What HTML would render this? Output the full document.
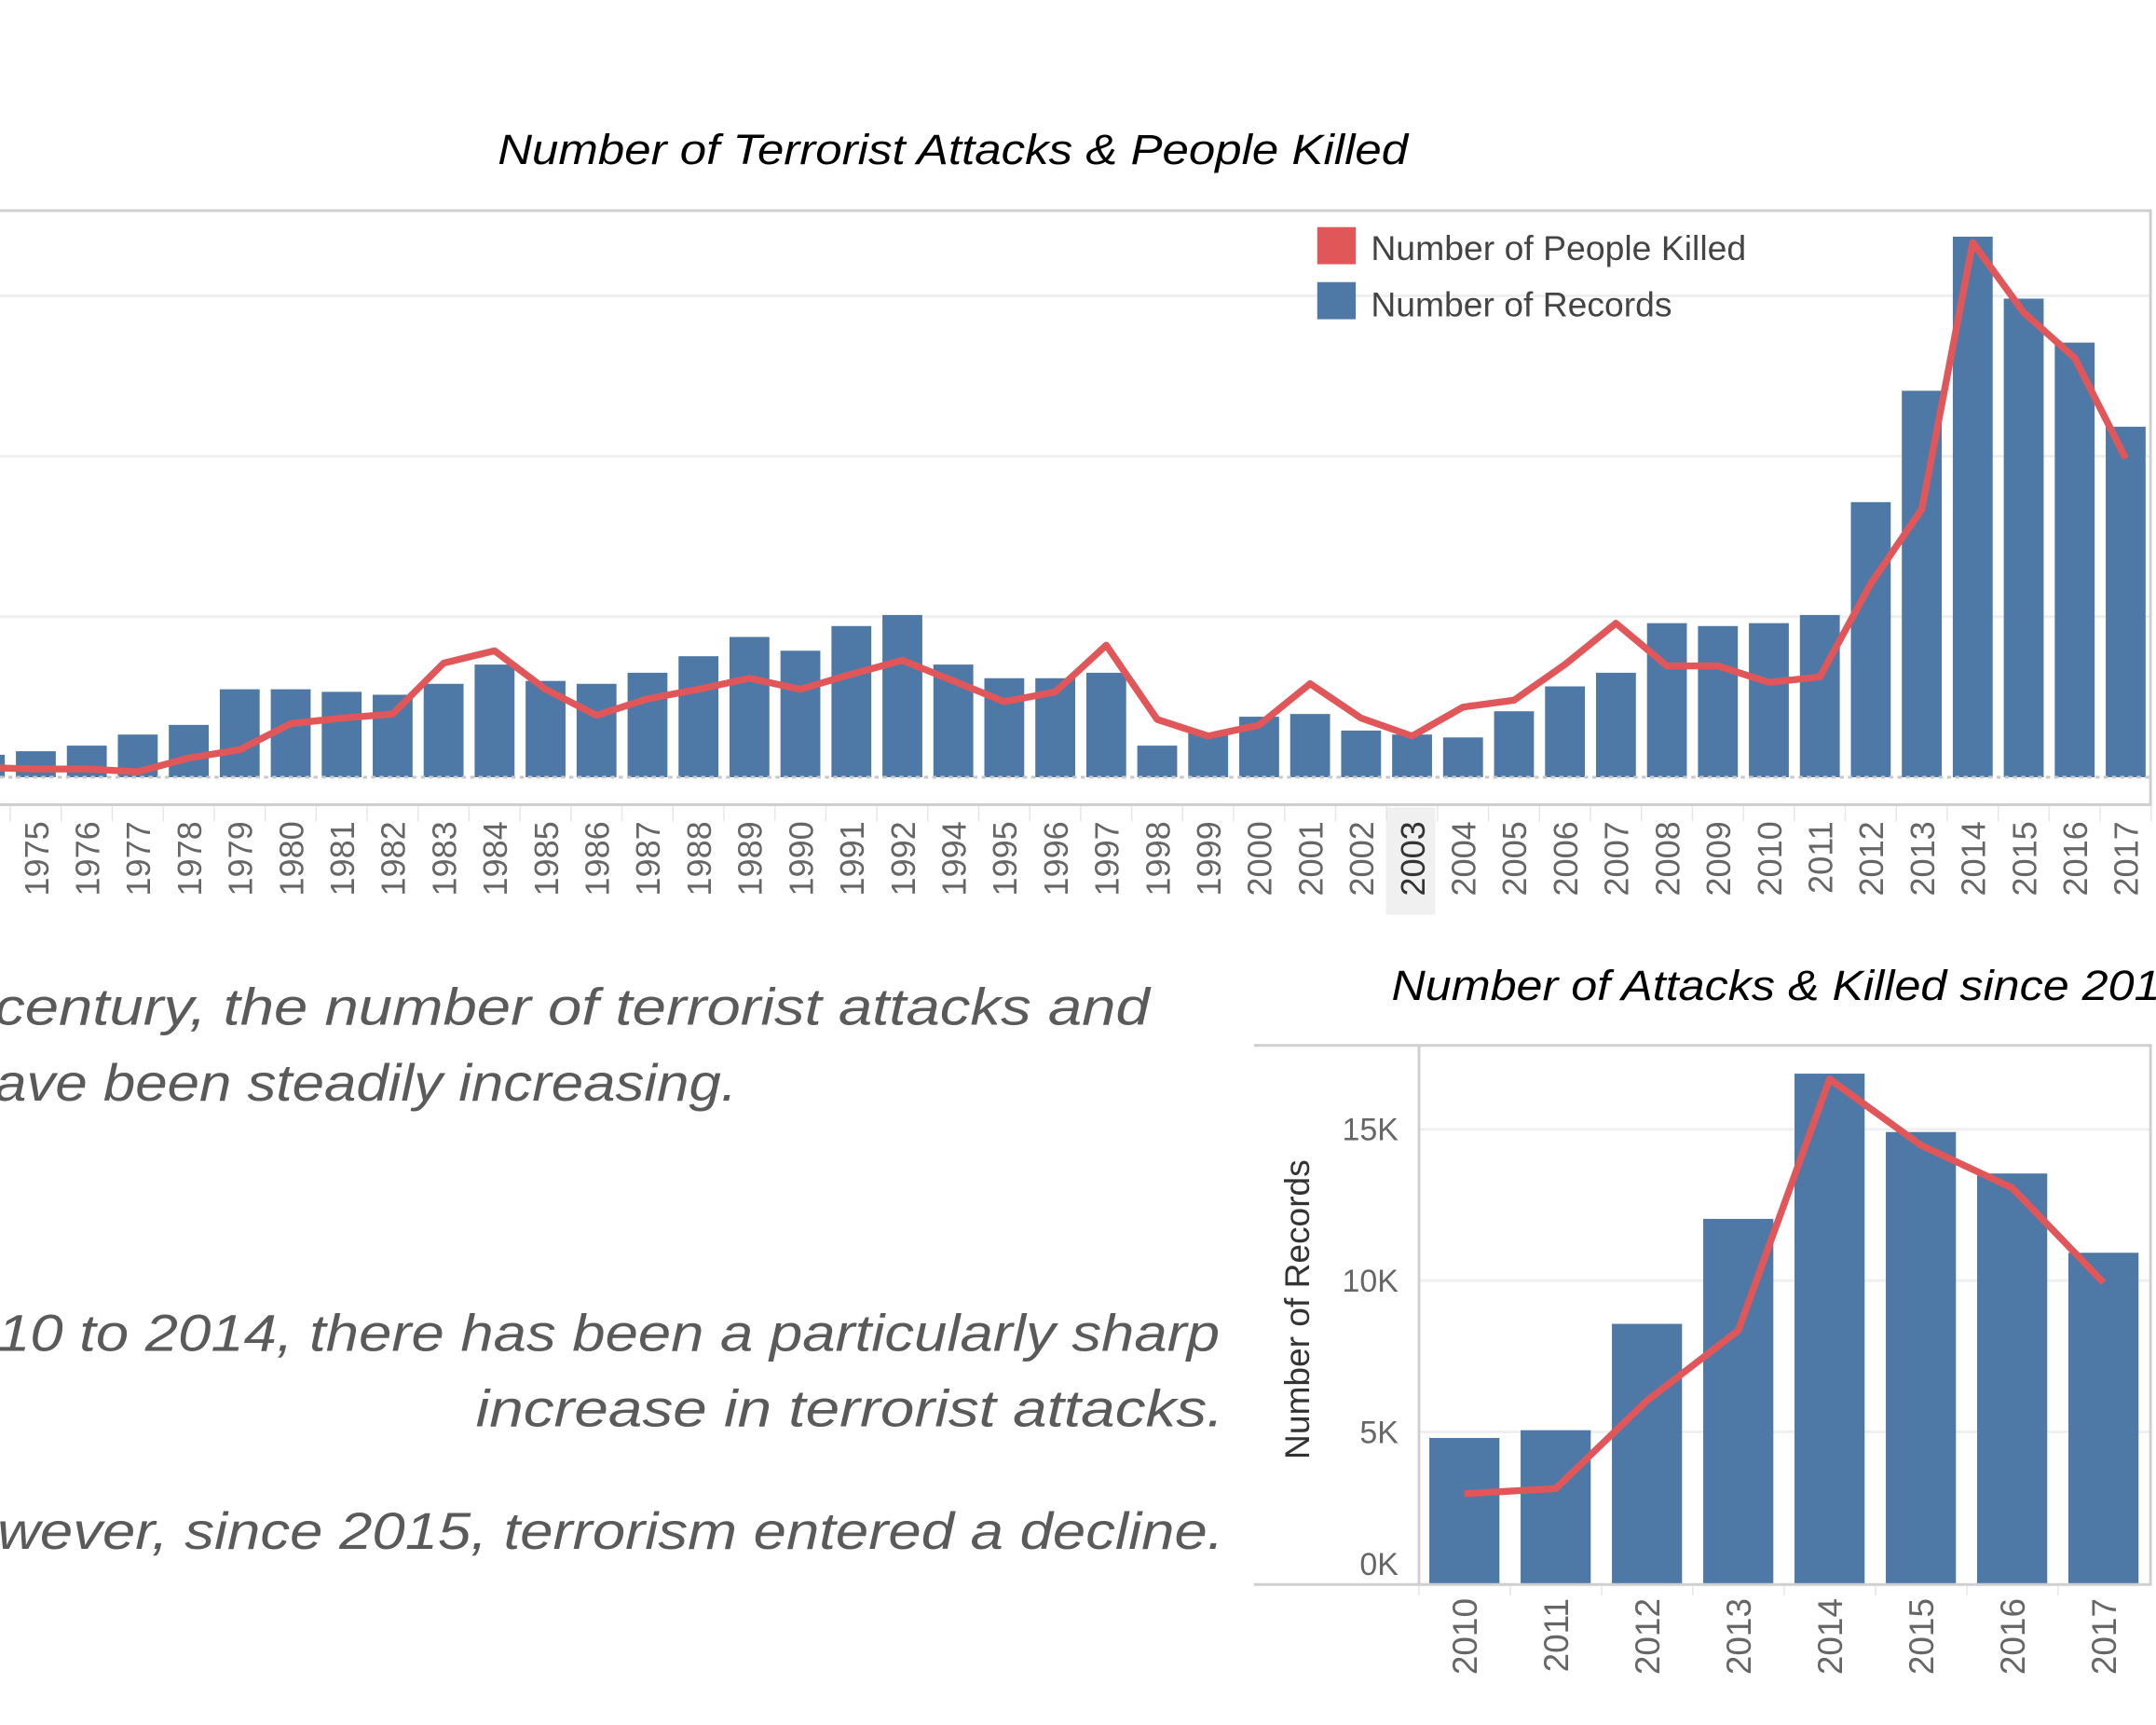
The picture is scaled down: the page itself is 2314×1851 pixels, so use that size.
<!DOCTYPE html>
<html><head><meta charset="utf-8"><style>
html,body{margin:0;padding:0;background:#fff;}
svg{display:block;}
text{font-family:"Liberation Sans",sans-serif;}
</style></head><body>
<svg id="s" width="2314" height="1851" viewBox="0 0 1568 1254" xmlns="http://www.w3.org/2000/svg">
<g id="top"></g>
<g id="small"></g>
<g font-style="italic" fill="#5a5a5a" font-size="38">
<text x="-4" y="745" textLength="840" lengthAdjust="spacingAndGlyphs">century, the number of terrorist attacks and</text>
<text x="-4" y="800" textLength="540" lengthAdjust="spacingAndGlyphs">ave been steadily increasing.</text>
<text x="-2" y="982" textLength="889" lengthAdjust="spacingAndGlyphs">10 to 2014, there has been a particularly sharp</text>
<text x="346" y="1037" textLength="544" lengthAdjust="spacingAndGlyphs">increase in terrorist attacks.</text>
<text x="-2" y="1126" textLength="892" lengthAdjust="spacingAndGlyphs">wever, since 2015, terrorism entered a decline.</text>
</g>
</svg>
<script>
const years=['1974','1975','1976','1977','1978','1979','1980','1981','1982','1983','1984','1985','1986','1987','1988','1989','1990','1991','1992','1994','1995','1996','1997','1998','1999','2000','2001','2002','2003','2004','2005','2006','2007','2008','2009','2010','2011','2012','2013','2014','2015','2016','2017'];
const records=[700,810,985,1330,1630,2740,2740,2660,2570,2910,3510,3000,2910,3255,3770,4370,3940,4710,5055,3510,3085,3085,3255,985,1370,1885,1970,1455,1330,1240,2055,2830,3255,4800,4710,4800,5055,8570,12040,16840,14910,13540,10920];
const killed=[795,680,680,450,1590,2270,4430,4880,5220,9420,10440,7260,5110,6470,7260,8170,7260,8510,9650,7950,6240,7040,10900,4770,3400,4310,7720,4880,3400,5790,6360,9310,12710,9190,9190,7830,8280,15990,22130,44150,38360,34620,26330];
const smallTicks=['0K','5K','10K','15K'];
const smallTickVals=[0,5000,10000,15000];
const KRATIO=2.65;
const NS='http://www.w3.org/2000/svg';
function mk(p,tag,a,txt){const e=document.createElementNS(NS,tag);for(const k in a)e.setAttribute(k,a[k]);if(txt!==undefined)e.textContent=txt;p.appendChild(e);return e;}
const BLUE='#4e79a7',RED='#e15759';
// ---- top chart
const T=document.getElementById('top');
const tBase=565, tPx=116.7/5000;
const tY=v=>tBase-v*tPx, tYK=v=>tBase-v/KRATIO*tPx;
const tX=i=>-11+(i)*37.07;
let e;
e=mk(T,'text',{x:362,y:119,'font-size':31,'font-style':'italic',fill:'#000',textLength:662,lengthAdjust:'spacingAndGlyphs'},'Number of Terrorist Attacks & People Killed');

[5000,10000,15000].forEach(v=>{e=mk(T,'line',{x1:0,x2:1563,y1:tY(v),y2:tY(v),stroke:'#efefef','stroke-width':2});});
e=mk(T,'line',{x1:0,x2:1565,y1:153,y2:153,stroke:'#cfcfcf','stroke-width':2});
e=mk(T,'line',{x1:0,x2:1565,y1:585,y2:585,stroke:'#cfcfcf','stroke-width':2});
e=mk(T,'line',{x1:1564,x2:1564,y1:153,y2:585,stroke:'#cfcfcf','stroke-width':2});
e=mk(T,'rect',{x:tX(years.indexOf('2003'))-19,y:587,width:36,height:78,fill:'#f0f0f0'});
years.forEach((y,i)=>{
 const x=tX(i);
 e=mk(T,'rect',{x:x-14.5,y:tY(records[i]),width:29,height:records[i]*tPx,fill:BLUE});
 
 e=mk(T,'line',{x1:x+18.5,x2:x+18.5,y1:586,y2:597,stroke:'#e6e6e6','stroke-width':1});
 
 if(i>0){e=mk(T,'text',{transform:`translate(${x+9},597) rotate(-90)`,'text-anchor':'end','font-size':24.5,fill:y==='2003'?'#333':'#666'},y);
 }
});
e=mk(T,'line',{x1:0,x2:1563,y1:tBase,y2:tBase,stroke:'#c8c8c8','stroke-width':2,'stroke-dasharray':'3,3'});
e=mk(T,'polyline',{points:killed.map((k,i)=>tX(i)+','+tYK(k)).join(' '),fill:'none',stroke:RED,'stroke-width':5,'stroke-linejoin':'round'});

e=mk(T,'rect',{x:958,y:165,width:28,height:27,fill:RED});
e=mk(T,'text',{x:997,y:189,'font-size':25,fill:'#444',textLength:273,lengthAdjust:'spacingAndGlyphs'},'Number of People Killed');
e=mk(T,'rect',{x:958,y:205,width:28,height:27,fill:BLUE});
e=mk(T,'text',{x:997,y:230,'font-size':25,fill:'#444',textLength:219,lengthAdjust:'spacingAndGlyphs'},'Number of Records');
// ---- small chart
const S=document.getElementById('small');
const sYears=years.slice(years.indexOf('2010'));
const sRec=records.slice(years.indexOf('2010'));
const sKil=killed.slice(years.indexOf('2010'));
const sBase=1151, sPx=110/5000;
const sY=v=>sBase-v*sPx, sYK=v=>sBase-v/KRATIO*sPx;
const sX=i=>1065+i*66.4;
e=mk(S,'text',{x:1012,y:727,'font-size':31,'font-style':'italic',fill:'#000',textLength:578,lengthAdjust:'spacingAndGlyphs'},'Number of Attacks & Killed since 2010');

smallTickVals.forEach((v,i)=>{
 if(v>0){e=mk(S,'line',{x1:1032,x2:1563,y1:sY(v),y2:sY(v),stroke:'#efefef','stroke-width':2});}
 e=mk(S,'text',{x:1017,y:sY(v)+(v===0?-6:8),'text-anchor':'end','font-size':23,fill:'#666'},smallTicks[i]);
 
});
e=mk(S,'line',{x1:912,x2:1565,y1:760,y2:760,stroke:'#cfcfcf','stroke-width':2});
e=mk(S,'line',{x1:912,x2:1565,y1:1152,y2:1152,stroke:'#cfcfcf','stroke-width':2});
e=mk(S,'line',{x1:1032,x2:1032,y1:760,y2:1152,stroke:'#cfcfcf','stroke-width':2});
e=mk(S,'line',{x1:1564,x2:1564,y1:760,y2:1152,stroke:'#cfcfcf','stroke-width':2});
e=mk(S,'text',{transform:'translate(952,952) rotate(-90)','text-anchor':'middle','font-size':25,fill:'#333',textLength:218,lengthAdjust:'spacingAndGlyphs'},'Number of Records');

sYears.forEach((y,i)=>{
 const x=sX(i);
 e=mk(S,'rect',{x:x-25.5,y:sY(sRec[i]),width:51,height:sRec[i]*sPx,fill:BLUE});
 
 e=mk(S,'line',{x1:x-33,x2:x-33,y1:1153,y2:1160,stroke:'#e6e6e6','stroke-width':1});
 
 e=mk(S,'text',{transform:`translate(${x+9},1162) rotate(-90)`,'text-anchor':'end','font-size':25,fill:'#666'},y);
 
});
e=mk(S,'polyline',{points:sKil.map((k,i)=>sX(i)+','+sYK(k)).join(' '),fill:'none',stroke:RED,'stroke-width':5,'stroke-linejoin':'round'});

</script>
</body></html>
